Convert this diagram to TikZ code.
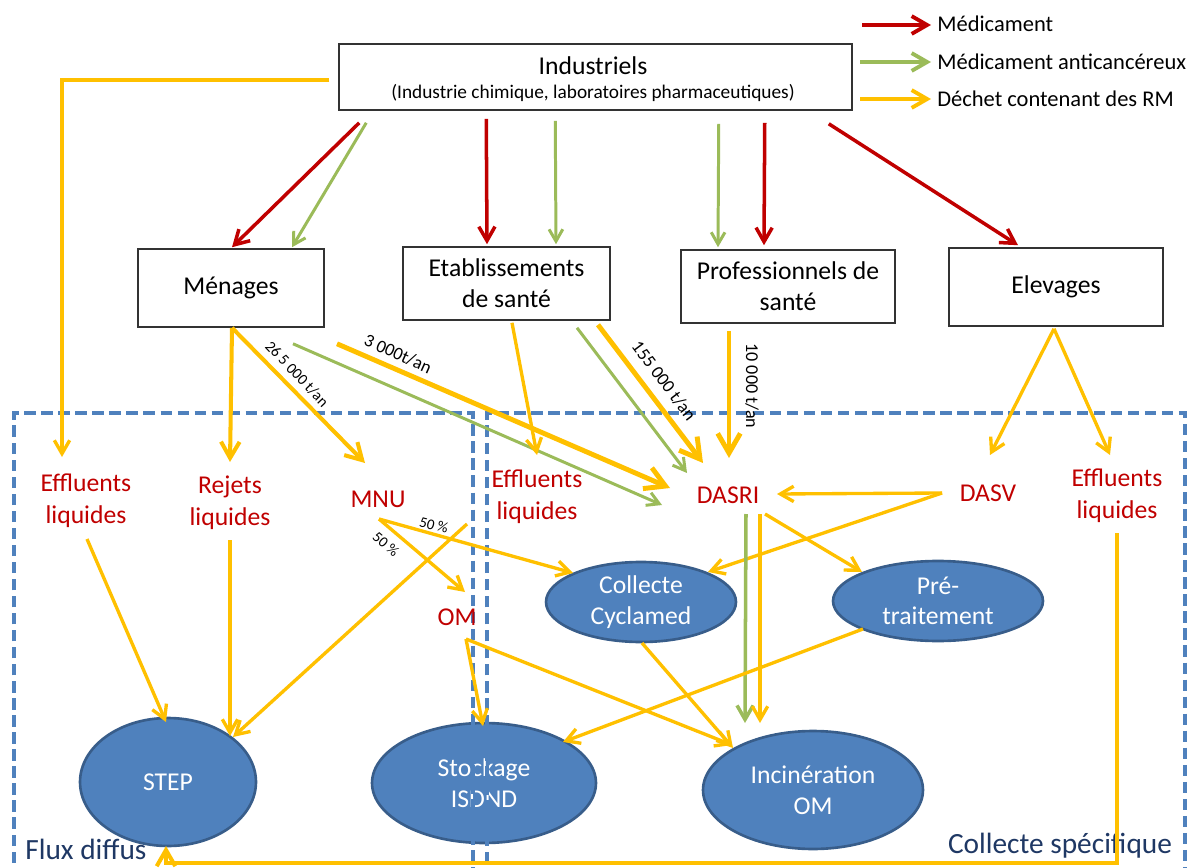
\documentclass[tikz,border=0pt]{standalone}
\usepackage{fontspec}
\setmainfont{Carlito}
\usetikzlibrary{arrows.meta,shapes.geometric,calc}
\definecolor{rouge}{HTML}{C00000}
\definecolor{vert}{HTML}{9BBB59}
\definecolor{jaune}{HTML}{FFC000}
\definecolor{bleu}{HTML}{4F81BD}
\definecolor{bord}{HTML}{385D8A}
\definecolor{marine}{HTML}{1F3864}
\tikzset{
  arr/.style={-{Straight Barb[length=0pt 4,width=0pt 4.6]}},
  rd/.style={draw=rouge, line width=2pt, arr},
  gr/.style={draw=vert, line width=1.7pt, arr},
  ye/.style={draw=jaune, line width=1.9pt, arr},
  yem/.style={draw=jaune, line width=2.3pt, arr},
  yeb/.style={draw=jaune, line width=2.8pt, arr},
  box/.style={draw=black!80, line width=0.9pt, fill=white, inner sep=0pt},
  boxtxt/.style={align=center, font=\fontsize{14.6pt}{17.6pt}\selectfont},
  ell/.style={ellipse, draw=bord, fill=bleu, line width=1.5pt, inner sep=0pt,
    text=white, align=center, font=\fontsize{14.6pt}{17.4pt}\selectfont},
  flux/.style={text=rouge, align=center, inner sep=0pt,
    font=\fontsize{14.6pt}{18.1pt}\selectfont},
  qty/.style={inner sep=0pt, font=\fontsize{10.3pt}{12pt}\selectfont},
  zone/.style={draw=bleu, line width=2pt, dash pattern=on 6.5pt off 3.2pt},
  zonetxt/.style={text=marine, inner sep=0pt, font=\fontsize{16.7pt}{20pt}\selectfont},
  legtxt/.style={anchor=west, inner sep=0pt, font=\fontsize{12.8pt}{15pt}\selectfont},
}
\begin{document}
\begin{tikzpicture}[x=0.02cm,y=-0.02cm]
\useasboundingbox (0,0) rectangle (1190,868);
\clip (0,0) rectangle (1190,868);

% actors
\node[box, minimum width=10.26cm, minimum height=1.32cm] (ind) at (595.5,77) {};
\node[inner sep=0pt, font=\fontsize{14.6pt}{17pt}\selectfont] (indT) at (593,66) {Industriels};
\node[inner sep=0pt, font=\fontsize{11pt}{13pt}\selectfont] (indS) at (593,93) {(Industrie chimique, laboratoires pharmaceutiques)};
\node[box, boxtxt, minimum width=3.72cm, minimum height=1.56cm] (men) at (231,288) {Ménages};
\node[box, boxtxt, minimum width=4.14cm, minimum height=1.46cm] (eta) at (506.5,283.5) {Etablissements\\de santé};
\node[box, boxtxt, minimum width=4.28cm, minimum height=1.46cm] (pro) at (788,286.5) {Professionnels de\\santé};
\node[box, boxtxt, minimum width=4.28cm, minimum height=1.56cm] (ele) at (1056,287) {Elevages};

% legend
\node[legtxt] (legR) at (937,24) {Médicament};
\node[legtxt] (legG) at (937,62) {Médicament anticancéreux};
\node[legtxt] (legY) at (937,99) {Déchet contenant des RM};
\draw[rd, line width=2.2pt] ($(legR.west)+(-75,1)$) -- ($(legR.west)+(-6,1)$);
\draw[gr, line width=2.2pt] ($(legG.west)+(-77,0)$) -- ($(legG.west)+(-6,0)$);
\draw[ye, line width=2.2pt] ($(legY.west)+(-77,0)$) -- ($(legY.west)+(-6,0)$);

% treatment units
\node[ell, minimum width=3.52cm, minimum height=2.56cm] (step) at (168,782) {STEP};
\node[ell, minimum width=4.48cm, minimum height=2.4cm] (sto) at (484,783) {Stockage\\ISDND};
\node[ell, minimum width=4.4cm, minimum height=2.36cm] (inc) at (813,790) {Incinération\\OM};
\node[ell, minimum width=3.8cm, minimum height=1.6cm] (col) at (641,602) {Collecte\\Cyclamed};
\node[ell, minimum width=4.2cm, minimum height=1.6cm] (pre) at (938,601) {Pré-\\traitement};

% zones
\draw[zone] (14,880) -- (14,413) -- (473,413) -- (473,880);
\draw[zone] (487,880) -- (487,413) -- (1185,413) -- (1185,880);
\node[zonetxt, anchor=west] (zfd) at (25,849) {Flux diffus};
\node[zonetxt] (zcs) at (1060,846) {Collecte spécifique};

% flows
\node[flux] (effL) at (86,501) {Effluents\\liquides};
\node[flux] (rej) at (230,503) {Rejets\\liquides};
\node[flux] (mnu) at (378,499) {MNU};
\node[flux] (effM) at (537,497) {Effluents\\liquides};
\node[flux] (dasri) at (728,495) {DASRI};
\node[flux] (dasv) at (988,493) {DASV};
\node[flux] (effR) at (1117,496) {Effluents\\liquides};
\node[flux] (om) at (457,617) {OM};

% from the manufacturers
\draw[ye, line cap=butt] ($(ind.west)+(-9,3)$) -| ($(effL)+(-24,-44)$);
\draw[rd] ($(ind.south west)+(21,12)$) -- ($(men.north)+(1,-1)$);
\draw[gr] ($(ind.south west)+(28,12)$) -- ($(men.north)+(61,-1)$);
\draw[rd] ($(ind.south west)+(148,8)$) -- ($(eta.north)+(-19.5,-2)$);
\draw[gr] ($(ind.south west)+(217,10)$) -- ($(eta.north)+(49.5,-2)$);
\draw[gr] ($(ind.south east)+(-134,13)$) -- ($(pro.north)+(-70,-2)$);
\draw[rd] ($(ind.south east)+(-88,12)$) -- ($(pro.north)+(-24,-4)$);
\draw[rd] ($(ind.south east)+(-24,13)$) -- ($(ele.north)+(-38,-2)$);

% from the households
\draw[yem] ($(men.south)+(1,0)$) -- ($(rej)+(0,-41)$);
\draw[yem] ($(men.south)+(1,0)$) -- ($(mnu)+(-13,-36)$);
\draw[gr] ($(men.south)+(62,16)$) -- ($(dasri)+(-66,10)$);
\draw[yeb] ($(men.south)+(106,16)$) -- ($(dasri)+(-58,-7)$);

% from health facilities and professionals
\draw[ye] ($(eta.south)+(5.5,2)$) -- ($(effM)+(0,-42)$);
\draw[gr] ($(eta.south)+(70.5,7)$) -- ($(dasri)+(-41,-22)$);
\draw[yeb] ($(eta.south)+(91.5,4)$) -- ($(dasri)+(-25,-32)$);
\draw[yeb] ($(pro.south)+(-59,7)$) -- ($(dasri)+(1,-37)$);

% from livestock farming
\draw[ye] ($(ele.south)+(-2,2)$) -- ($(dasv)+(2,-38)$);
\draw[ye] ($(ele.south)+(-2,2)$) -- ($(effR)+(-7,-41)$);

% quantities
\node[qty, font=\fontsize{8.8pt}{10pt}\selectfont, rotate=-46.5] (q1) at (297,374) {26 5 000 t/an};
\node[qty, rotate=-24] (q2) at (398,354) {3 000t/an};
\node[qty, rotate=-53] (q3) at (664,381) {155 000 t/an};
\node[qty, rotate=-90] (q4) at (752,386) {10 000 t/an};

% sorting of the waste
\draw[ye] ($(dasv)+(-46,0)$) -- ($(dasri)+(49,-1)$);
\draw[ye] ($(dasv)+(-46,0)$) -- ($(col)+(67,-30)$);
\draw[ye] ($(dasri)+(37,19)$) -- ($(pre)+(-76,-29)$);
\draw[gr, line width=2pt] ($(dasri)+(18,19)$) -- ($(inc)+(-68,-67)$);
\draw[ye] ($(dasri)+(32,19)$) -- ($(inc)+(-53,-67)$);
\draw[ye] ($(mnu)+(1,20)$) -- ($(col)+(-68,-29)$);
\draw[ye] ($(mnu)+(1,20)$) -- ($(om)+(8,-25)$);
\node[qty, font=\fontsize{8.5pt}{10pt}\selectfont, rotate=-15] (p1) at (434,525) {50 \%};
\node[qty, font=\fontsize{8.5pt}{10pt}\selectfont, rotate=-41] (p2) at (386,544) {50 \%};

% towards the treatment units
\draw[ye] ($(effM)+(-70,27)$) -- ($(step)+(65,-45)$);
\draw[ye] ($(effL)+(1,38)$) -- ($(step)+(-2,-60)$);
\draw[ye] ($(rej)+(0,37)$) -- ($(step)+(62,-46)$);
\draw[ye] ($(om)+(9,22)$) -- ($(sto)+(-1,-57)$);
\draw[ye] ($(om)+(9,22)$) -- ($(inc)+(-81,-45)$);
\draw[ye] ($(col)+(1,41)$) -- ($(inc)+(-80,-42)$);
\draw[ye] ($(pre)+(-75,28)$) -- ($(sto)+(79,-41)$);
\draw[yem] ($(effR)+(0,37)$) -- ($(effR)+(0,367)$) -| ($(step)+(-2,64)$);
\end{tikzpicture}
\end{document}
